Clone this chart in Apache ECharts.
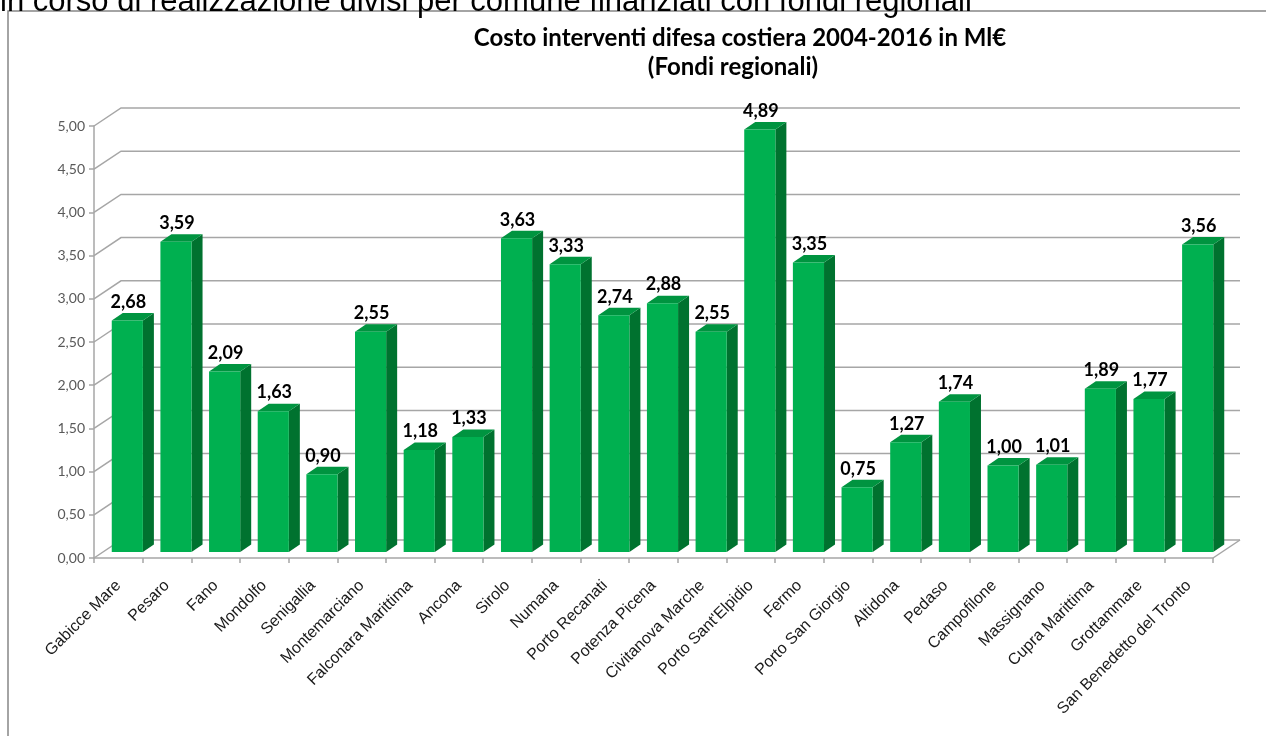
<!DOCTYPE html>
<html>
<head>
<meta charset="utf-8">
<script src="https://cdn.jsdelivr.net/npm/echarts@6/dist/echarts.min.js"></script>
<style>
  html, body { margin: 0; padding: 0; background: #ffffff; }
  #chart { width: 1266px; height: 736px; }
</style>
</head>
<body>
<div id="chart"></div>
<script>
// Costo interventi difesa costiera 2004-2016 per comune (milioni di euro, fondi regionali)
const categories = [
  'Gabicce Mare', 'Pesaro', 'Fano', 'Mondolfo', 'Senigallia', 'Montemarciano',
  'Falconara Marittima', 'Ancona', 'Sirolo', 'Numana', 'Porto Recanati',
  'Potenza Picena', 'Civitanova Marche', "Porto Sant'Elpidio", 'Fermo',
  'Porto San Giorgio', 'Altidona', 'Pedaso', 'Campofilone', 'Massignano',
  'Cupra Marittima', 'Grottammare', 'San Benedetto del Tronto'
];
const values = [
  2.68, 3.59, 2.09, 1.63, 0.90, 2.55, 1.18, 1.33, 3.63, 3.33, 2.74, 2.88,
  2.55, 4.89, 3.35, 0.75, 1.27, 1.74, 1.00, 1.01, 1.89, 1.77, 3.56
];
const yTicks = [0, 0.5, 1, 1.5, 2, 2.5, 3, 3.5, 4, 4.5, 5];

const titleLines = ['Costo interventi difesa costiera 2004-2016 in Ml€', '(Fondi regionali)'];
const headerText = 'in corso di realizzazione divisi per comune finanziati con fondi regionali';

// 3D look: depth of the walls, position and depth of the bars inside it
const WALL_DX = 27, WALL_DY = 18;
const BAR_OX = 9, BAR_OY = 6;
const BAR_DX = 11, BAR_DY = 7.5;
const GRID_COLOR = '#a6a6a6';

const fmt = v => v.toFixed(2).replace('.', ',');

const chart = echarts.init(document.getElementById('chart'), null, { renderer: 'canvas' });

chart.setOption({
  animation: false,
  backgroundColor: '#ffffff',
  grid: { left: 94, right: 53, top: 126, bottom: 178, containLabel: false },
  graphic: [
    {
      type: 'rect', z: -10, silent: true,
      shape: { x: 8, y: 11, width: 1300, height: 800 },
      style: { fill: 'none', stroke: '#868686', lineWidth: 1.5 }
    },
    {
      type: 'text', z: 5, silent: true, x: 0, y: 2,
      style: {
        text: headerText, fill: '#000000',
        font: '31px "Liberation Sans", Arial, sans-serif',
        align: 'left', verticalAlign: 'middle'
      }
    },
    {
      type: 'text', z: 5, silent: true, x: 740, y: 38,
      style: {
        text: titleLines[0], fill: '#000000',
        font: 'bold 24px Lato, sans-serif',
        align: 'center', verticalAlign: 'middle'
      }
    },
    {
      type: 'text', z: 5, silent: true, x: 733, y: 67,
      style: {
        text: titleLines[1], fill: '#000000',
        font: 'bold 24px Lato, sans-serif',
        align: 'center', verticalAlign: 'middle'
      }
    }
  ],
  xAxis: {
    type: 'category',
    data: categories,
    boundaryGap: true,
    axisLine: { show: true, lineStyle: { color: GRID_COLOR, width: 1.5 } },
    axisTick: { show: true, alignWithLabel: false, length: 5, lineStyle: { color: GRID_COLOR, width: 1.5 } },
    axisLabel: {
      interval: 0, rotate: 45, margin: 25,
      color: '#1a1a1a', fontSize: 16,
      fontFamily: '"Liberation Sans", Arial, sans-serif'
    },
    splitLine: { show: false }
  },
  yAxis: {
    type: 'value',
    min: 0, max: 5, interval: 0.5,
    axisLine: { show: true, lineStyle: { color: GRID_COLOR, width: 1.5 } },
    axisTick: { show: true, length: 5, lineStyle: { color: GRID_COLOR, width: 1.5 } },
    axisLabel: {
      margin: 9, color: '#595959', fontSize: 14,
      fontFamily: 'Lato, sans-serif',
      formatter: v => fmt(v)
    },
    splitLine: { show: false }
  },
  series: [
    {
      // back wall gridlines, left side wall diagonals and floor edge
      type: 'custom',
      clip: false,
      silent: true,
      z: 1,
      data: yTicks.map(v => [0, v]),
      encode: { x: 0, y: 1 },
      renderItem: function (params, api) {
        const cs = params.coordSys;
        const y = api.coord([0, api.value(1)])[1];
        const left = cs.x, right = cs.x + cs.width;
        const children = [{
          type: 'polyline',
          shape: { points: [[left, y], [left + WALL_DX, y - WALL_DY], [right + WALL_DX, y - WALL_DY]] },
          style: { stroke: GRID_COLOR, lineWidth: 1.5, fill: null }
        }];
        if (api.value(1) === 0) {
          children.push({
            type: 'line',
            shape: { x1: right, y1: y, x2: right + WALL_DX, y2: y - WALL_DY },
            style: { stroke: GRID_COLOR, lineWidth: 1.5 }
          });
        }
        return { type: 'group', children: children };
      }
    },
    {
      // 3D bars with value labels
      type: 'custom',
      clip: false,
      silent: true,
      z: 3,
      data: values.map((v, i) => [i, v]),
      encode: { x: 0, y: 1 },
      renderItem: function (params, api) {
        const v = api.value(1);
        const p = api.coord([api.value(0), v]);
        const base = api.coord([api.value(0), 0]);
        const bw = api.size([1, 0])[0] * 0.64;
        const x0 = p[0] + BAR_OX - bw / 2;
        const x1 = x0 + bw;
        const yTop = p[1] - BAR_OY;
        const yBot = base[1] - BAR_OY;
        return {
          type: 'group',
          children: [
            {
              type: 'polygon',
              shape: { points: [[x1, yTop], [x1 + BAR_DX, yTop - BAR_DY], [x1 + BAR_DX, yBot - BAR_DY], [x1, yBot]] },
              style: { fill: '#00722f' }
            },
            {
              type: 'polygon',
              shape: { points: [[x0, yTop], [x0 + BAR_DX, yTop - BAR_DY], [x1 + BAR_DX, yTop - BAR_DY], [x1, yTop]] },
              style: { fill: '#009440' }
            },
            {
              type: 'rect',
              shape: { x: x0, y: yTop, width: bw, height: yBot - yTop },
              style: { fill: '#00b050' }
            },
            {
              type: 'text',
              x: x0 + bw / 2 + 1, y: yTop - BAR_DY - 2,
              style: {
                text: fmt(v), fill: '#000000',
                font: 'bold 18px Lato, sans-serif',
                align: 'center', verticalAlign: 'bottom'
              }
            }
          ]
        };
      }
    }
  ]
});
</script>
</body>
</html>
